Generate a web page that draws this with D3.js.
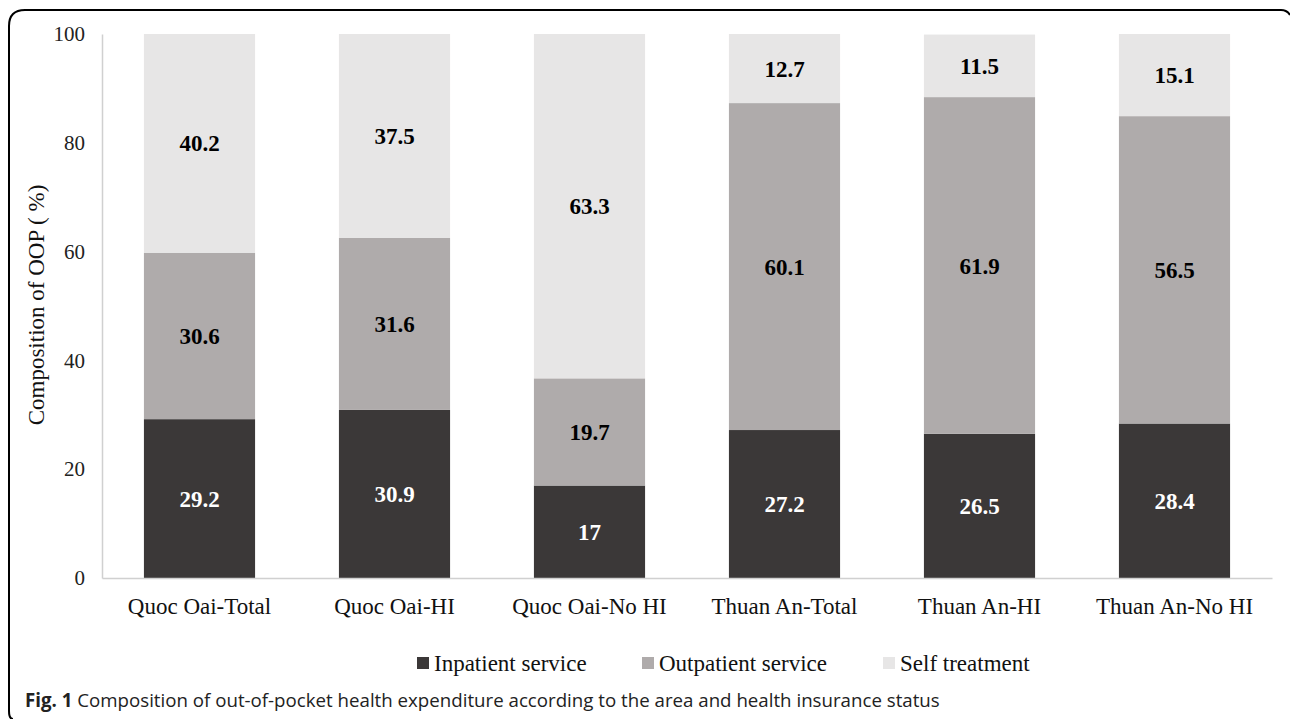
<!DOCTYPE html>
<html>
<head>
<meta charset="utf-8">
<script src="https://cdn.jsdelivr.net/npm/d3@7"></script>
<style>
  body { margin: 0; background: #fff; }
  svg { display: block; }
</style>
</head>
<body>
<svg width="1290" height="719"></svg>
<script>
let categories = ["Quoc Oai-Total", "Quoc Oai-HI", "Quoc Oai-No HI", "Thuan An-Total", "Thuan An-HI", "Thuan An-No HI"];
let inpatient = [29.2, 30.9, 17, 27.2, 26.5, 28.4];
let outpatient = [30.6, 31.6, 19.7, 60.1, 61.9, 56.5];
let selfTreatment = [40.2, 37.5, 63.3, 12.7, 11.5, 15.1];
let seriesNames = ["Inpatient service", "Outpatient service", "Self treatment"];
let yTicks = [0, 20, 40, 60, 80, 100];

let colors = ["#3b3838", "#afabab", "#e7e6e6"];
let labelColors = ["#fff", "#000", "#000"];

let svg = d3.select("svg");
let serif = "'Liberation Serif', 'Times New Roman', serif";

// frame around figure
svg.append("path")
  .attr("d", "M13,719 Q9,719 9,711 L9,26 Q9,10 25,10 L1281,10 Q1287,10 1290,15")
  .attr("fill", "none")
  .attr("stroke", "#000")
  .attr("stroke-width", 2);

let x = d3.scaleBand()
  .domain(categories)
  .range([102, 1272])
  .paddingInner(0.43)
  .paddingOuter(0.215);

let y = d3.scaleLinear().domain([0, 100]).range([578, 34]);

// build stack rows
let rows = categories.map(function (c, i) {
  return { cat: c, s0: inpatient[i], s1: outpatient[i], s2: selfTreatment[i] };
});
let stack = d3.stack().keys(["s0", "s1", "s2"])(rows);

stack.forEach(function (layer, k) {
  let g = svg.append("g");
  g.selectAll("rect")
    .data(layer)
    .enter()
    .append("rect")
    .attr("x", function (d) { return x(d.data.cat); })
    .attr("y", function (d) { return y(d[1]); })
    .attr("width", x.bandwidth())
    .attr("height", function (d) { return y(d[0]) - y(d[1]); })
    .style("fill", colors[k]);

  g.selectAll("text")
    .data(layer)
    .enter()
    .append("text")
    .attr("x", function (d) { return x(d.data.cat) + x.bandwidth() / 2; })
    .attr("y", function (d) { return (y(d[0]) + y(d[1])) / 2; })
    .attr("dy", "0.35em")
    .attr("text-anchor", "middle")
    .style("font-family", serif)
    .style("font-weight", "bold")
    .style("font-size", "23px")
    .style("fill", labelColors[k])
    .text(function (d) { return d.data["s" + k]; });
});

// axes
let yAxis = svg.append("g")
  .attr("transform", "translate(102,0)")
  .call(d3.axisLeft(y).tickValues(yTicks).tickSize(0).tickPadding(17));
yAxis.select(".domain").attr("stroke", "#d0d0d0").attr("stroke-width", 1.5);
yAxis.selectAll("text")
  .style("font-family", serif)
  .style("font-size", "21px")
  .style("fill", "#222");

let xAxis = svg.append("g")
  .attr("transform", "translate(0,578)")
  .call(d3.axisBottom(x).tickSize(0).tickPadding(20));
xAxis.select(".domain").attr("stroke", "#d0d0d0").attr("stroke-width", 1.5);
xAxis.selectAll("text")
  .style("font-family", serif)
  .style("font-size", "23px")
  .style("fill", "#111");

svg.append("text")
  .attr("transform", "translate(44,305) rotate(-90)")
  .attr("text-anchor", "middle")
  .style("font-family", serif)
  .style("font-size", "23px")
  .style("fill", "#111")
  .text("Composition of OOP ( %)");

// legend
let legendX = [417, 642, 883];
let legend = svg.append("g").selectAll("g")
  .data(seriesNames)
  .enter()
  .append("g")
  .attr("transform", function (d, i) { return "translate(" + legendX[i] + ",663)"; });
legend.append("rect")
  .attr("x", 0)
  .attr("y", -6)
  .attr("width", 12)
  .attr("height", 12)
  .style("fill", function (d, i) { return colors[i]; });
legend.append("text")
  .attr("x", 17)
  .attr("dy", "0.35em")
  .style("font-family", serif)
  .style("font-size", "23px")
  .style("fill", "#111")
  .text(function (d) { return d; });

// caption
let caption = svg.append("text")
  .attr("x", 25)
  .attr("y", 707)
  .style("font-family", "'Open Sans', 'Noto Sans', sans-serif")
  .style("font-size", "18.7px")
  .style("fill", "#222");
caption.append("tspan").style("font-weight", "bold").text("Fig. 1");
caption.append("tspan").text(" Composition of out-of-pocket health expenditure according to the area and health insurance status");
</script>
</body>
</html>
